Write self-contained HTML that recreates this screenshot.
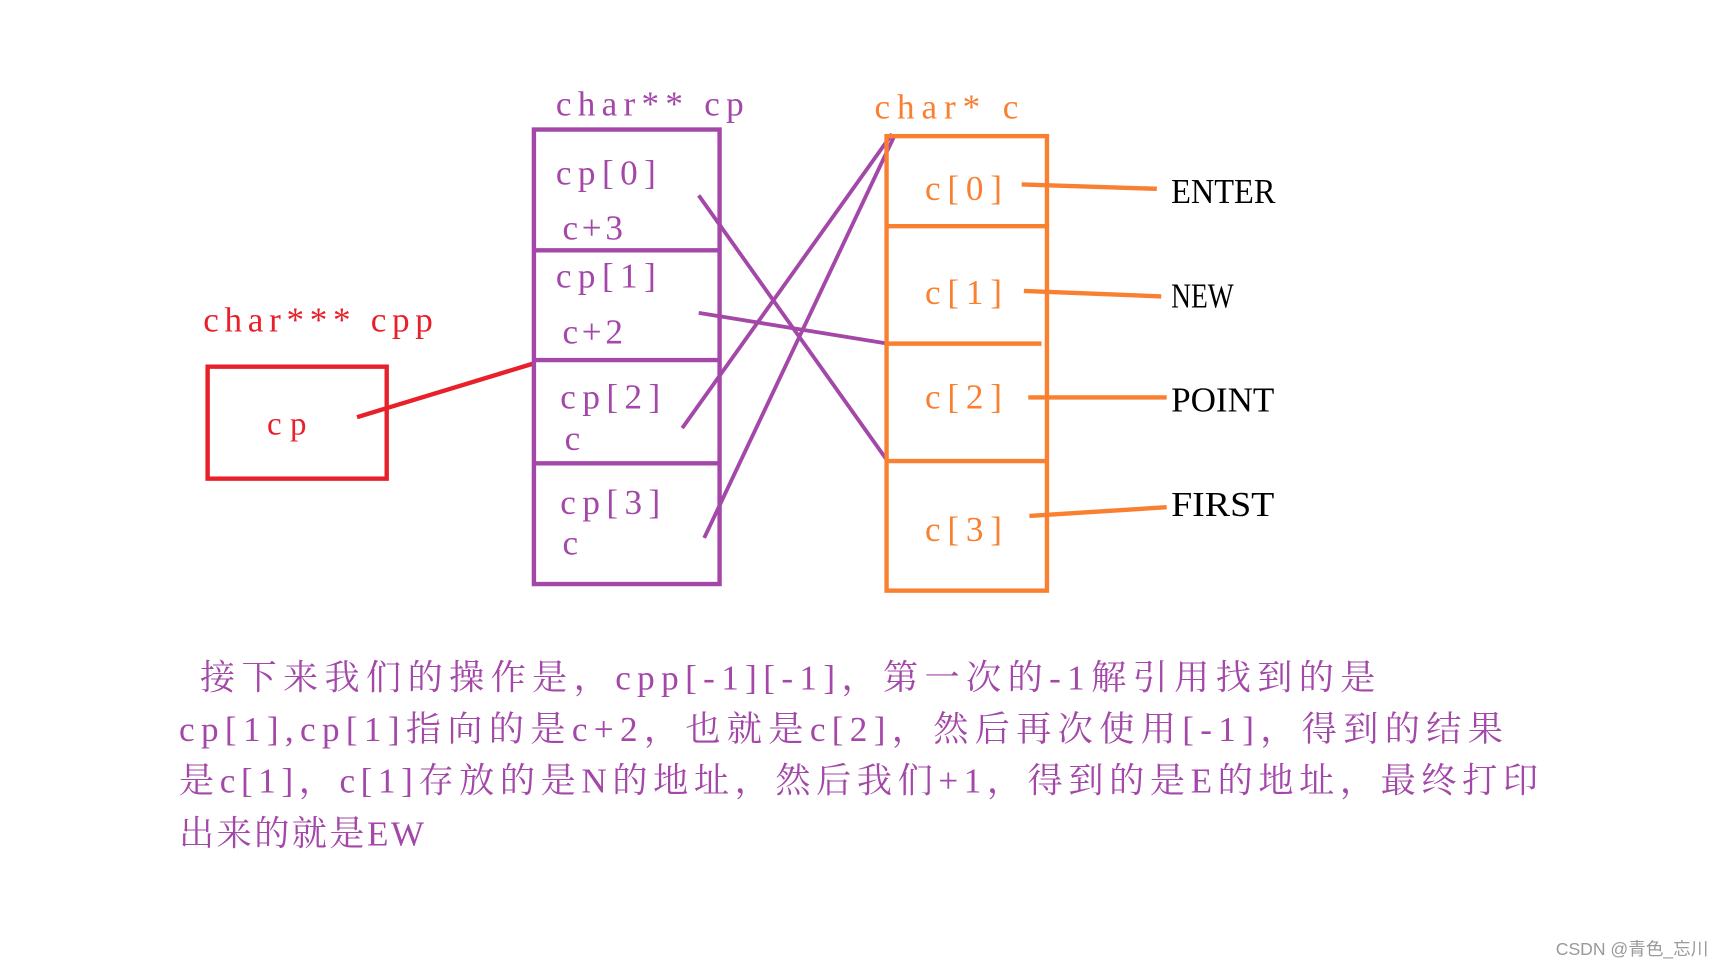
<!DOCTYPE html>
<html><head><meta charset="utf-8"><style>
html,body{margin:0;padding:0;background:#fff;width:1716px;height:965px;overflow:hidden}
svg{display:block}
text{font-family:"Liberation Serif","Noto Serif CJK SC",serif}
</style></head><body>
<svg width="1716" height="965" viewBox="0 0 1562 879" preserveAspectRatio="none" xmlns="http://www.w3.org/2000/svg">
<rect width="1562" height="879" fill="#fff"/>
<text x="185" y="302" font-size="32" fill="#e8202a" textLength="209" lengthAdjust="spacing">char*** cpp</text>
<rect x="189" y="334" width="163" height="102" fill="none" stroke="#e8202a" stroke-width="4"/>
<text x="243" y="396" font-size="30" fill="#e8202a" textLength="36" lengthAdjust="spacing">cp</text>
<line x1="325" y1="380" x2="486" y2="331" stroke="#e8202a" stroke-width="4"/>
<text x="506" y="105" font-size="32" fill="#a347a8" textLength="171" lengthAdjust="spacing">char** cp</text>
<g stroke="#a347a8" stroke-width="4" fill="none">
<rect x="486" y="118" width="169" height="414"/>
<line x1="486" y1="228" x2="655" y2="228"/>
<line x1="486" y1="328" x2="655" y2="328"/>
<line x1="486" y1="422" x2="655" y2="422"/>
<line x1="636" y1="178" x2="808" y2="420" stroke-width="3.5"/>
<line x1="636" y1="285" x2="808" y2="313" stroke-width="3.5"/>
<line x1="621" y1="390" x2="812" y2="122" stroke-width="3.5"/>
<line x1="641" y1="490" x2="814" y2="124" stroke-width="3.5"/>
</g>
<g font-size="32" fill="#a347a8">
<text x="506" y="168" textLength="91" lengthAdjust="spacing">cp[0]</text>
<text x="512" y="218" textLength="55" lengthAdjust="spacing">c+3</text>
<text x="506" y="262" textLength="91" lengthAdjust="spacing">cp[1]</text>
<text x="512" y="313" textLength="55" lengthAdjust="spacing">c+2</text>
<text x="510" y="372" textLength="91" lengthAdjust="spacing">cp[2]</text>
<text x="514" y="410">c</text>
<text x="510" y="468" textLength="91" lengthAdjust="spacing">cp[3]</text>
<text x="512" y="505">c</text>
</g>
<text x="796" y="108" font-size="32" fill="#f98030" textLength="131" lengthAdjust="spacing">char* c</text>
<g stroke="#f98030" stroke-width="4" fill="none">
<rect x="807" y="124" width="146" height="414"/>
<line x1="807" y1="206" x2="955" y2="206"/>
<line x1="807" y1="313" x2="948" y2="313"/>
<line x1="807" y1="420" x2="953" y2="420"/>
<line x1="930" y1="168" x2="1053" y2="172"/>
<line x1="932" y1="265" x2="1057" y2="270"/>
<line x1="936" y1="362" x2="1062" y2="362"/>
<line x1="937" y1="470" x2="1062" y2="462"/>
</g>
<g font-size="32" fill="#f98030">
<text x="842" y="182" textLength="70" lengthAdjust="spacing">c[0]</text>
<text x="842" y="277" textLength="70" lengthAdjust="spacing">c[1]</text>
<text x="842" y="372" textLength="70" lengthAdjust="spacing">c[2]</text>
<text x="842" y="493" textLength="70" lengthAdjust="spacing">c[3]</text>
</g>
<g font-size="32" fill="#000">
<text x="1066" y="185" textLength="95" lengthAdjust="spacingAndGlyphs">ENTER</text>
<text x="1066" y="280" textLength="57" lengthAdjust="spacingAndGlyphs">NEW</text>
<text x="1066" y="375" textLength="94" lengthAdjust="spacingAndGlyphs">POINT</text>
<text x="1066" y="470" textLength="94" lengthAdjust="spacingAndGlyphs">FIRST</text>
</g>
<g font-size="32" fill="#a347a8">
<text x="182" y="628" textLength="1070" lengthAdjust="spacing">接下来我们的操作是，cpp[-1][-1]，第一次的-1解引用找到的是</text>
<text x="163" y="675" textLength="1205" lengthAdjust="spacing">cp[1],cp[1]指向的是c+2，也就是c[2]，然后再次使用[-1]，得到的结果</text>
<text x="163" y="722" textLength="1237" lengthAdjust="spacing">是c[1]，c[1]存放的是N的地址，然后我们+1，得到的是E的地址，最终打印</text>
<text x="163" y="770" textLength="223" lengthAdjust="spacing">出来的就是EW</text>
</g>
<text x="1555" y="870" font-size="16" fill="#999" text-anchor="end" style="font-family:'Liberation Sans','Noto Sans CJK SC',sans-serif">CSDN @青色_忘川</text>
</svg>
</body></html>
